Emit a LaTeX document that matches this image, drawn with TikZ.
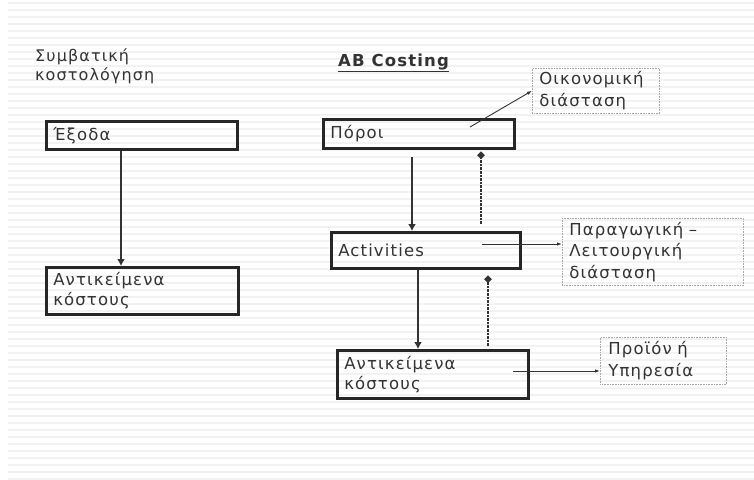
\documentclass[tikz,border=0pt]{standalone}
\usepackage{fontspec}
\setmainfont{DejaVu Sans}[LetterSpace=7]
\usetikzlibrary{arrows.meta}
\begin{document}
\begin{tikzpicture}[x=1pt,y=-1pt,
  every node/.style={font=\fontsize{16.5}{20}\selectfont, text=black!80},
  mainbox/.style={draw=black!85, line width=2.5pt, anchor=north west, align=left,
    inner xsep=7pt, inner ysep=0pt},
  notebox/.style={draw=black!35, densely dotted, line width=0.6pt, anchor=north west,
    align=left, inner xsep=7pt, inner ysep=0pt, font=\fontsize{16.5}{21.5}\selectfont},
  flow/.style={draw=black!80, line width=2.8pt, -{Latex[length=7pt,width=8pt]}},
  back/.style={draw=black!80, line width=2.6pt, densely dotted, -{Circle[length=6.5pt]}},
  pointer/.style={draw=black!80, line width=0.9pt, -{Latex[length=5pt,width=3.5pt]}},
  stripe/.style={draw=black!5, line width=2pt}]
\useasboundingbox (0,0) rectangle (754,479);
\fill[white] (0,0) rectangle (754,479);
% faint horizontal ruling of the slide background
\foreach \k in {0,...,68} {
  \draw[stripe] (8,{3+7*\k}) -- (754,{3+7*\k});
}

% headings
\node[anchor=north west, align=left, inner sep=0pt, font=\fontsize{16}{19}\selectfont]
  (conv) at (35,49) {Συμβατική\\κοστολόγηση};
\node[anchor=north west, inner sep=0pt, font=\bfseries\fontsize{16.5}{18}\selectfont]
  (abc) at (338,54) {\underline{AB Costing}};

% left column
\node[mainbox, minimum width=191pt, minimum height=28pt, text width=177pt]
  (exp) at (45,120) {Έξοδα};
\node[mainbox, minimum width=192pt, minimum height=47pt, text width=178pt]
  (objL) at (45,266) {Αντικείμενα\\κόστους};
\coordinate (expS) at (121,151);
\draw[flow] (expS) -- (expS |- objL.north);

% right column
\node[mainbox, minimum width=191pt, minimum height=29pt, text width=177pt]
  (res) at (322,118) {Πόροι};
\node[mainbox, minimum width=189pt, minimum height=36pt, text width=175pt]
  (act) at (330,231) {Activities};
\node[mainbox, minimum width=191pt, minimum height=48pt, text width=177pt]
  (objR) at (336,349) {Αντικείμενα\\κόστους};

% notes
\node[notebox, minimum width=127pt, minimum height=45pt, text width=113pt]
  (econ) at (532,68) {Οικονομική\\διάσταση};
\node[notebox, minimum width=181pt, minimum height=67pt, text width=167pt]
  (prod) at (562,218) {Παραγωγική –\\Λειτουργική\\διάσταση};
\node[notebox, minimum width=126pt, minimum height=47pt, text width=110pt, inner xsep=8pt]
  (serv) at (600,337) {Προϊόν ή\\Υπηρεσία};

% downward flows
\coordinate (resS) at (412,157);
\draw[flow] (resS) -- (resS |- act.north);
\coordinate (actS) at (418,270);
\draw[flow] (actS) -- (actS |- objR.north);

% dotted feedback flows
\coordinate (actB) at (481,224);
\draw[back] (actB) -- (481,152);
\coordinate (objB) at (488,346);
\draw[back] (objB) -- (488,276);

% pointers to the notes
\coordinate (resP) at (470,127);
\draw[pointer] (resP) -- (econ.west);
\coordinate (actP) at (482,244);
\draw[pointer] (actP) -- (actP -| prod.west);
\coordinate (objP) at (513,371);
\draw[pointer] (objP) -- (objP -| serv.west);
\end{tikzpicture}
\end{document}
